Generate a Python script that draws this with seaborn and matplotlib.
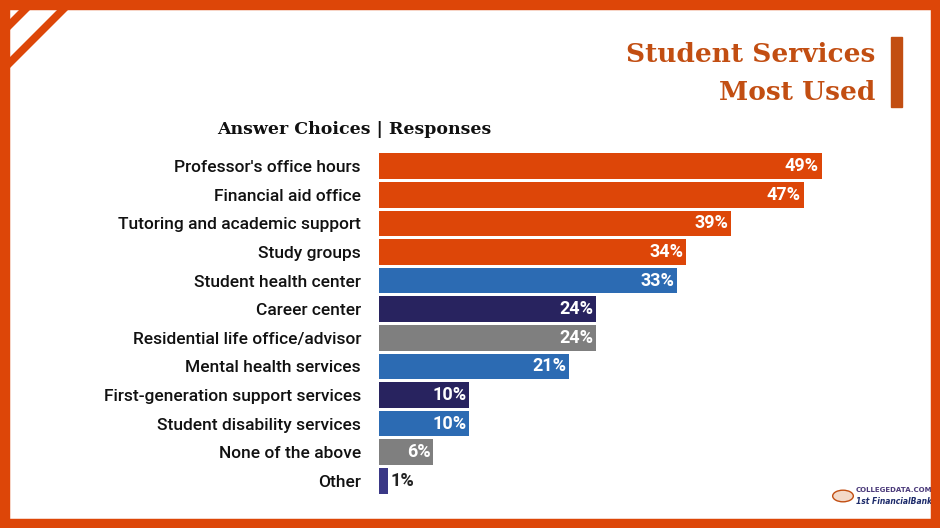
import matplotlib
matplotlib.use("Agg")
import matplotlib.pyplot as plt
import seaborn as sns
import pandas as pd
from matplotlib.patches import Rectangle, Polygon

categories = ["Professor's office hours", "Financial aid office", "Tutoring and academic support",
              "Study groups", "Student health center", "Career center",
              "Residential life office/advisor", "Mental health services",
              "First-generation support services", "Student disability services",
              "None of the above", "Other"]
values = [49, 47, 39, 34, 33, 24, 24, 21, 10, 10, 6, 1]
ORANGE, BLUE, NAVY, GREY = "#DD4608", "#2C6BB3", "#28235F", "#7F7F7F"
bar_colors = [ORANGE, ORANGE, ORANGE, ORANGE, BLUE, NAVY, GREY, BLUE, NAVY, BLUE, GREY, "#3A3886"]

df = pd.DataFrame({"cat": categories, "val": values})

W, H = 940, 528
fig = plt.figure(figsize=(9.4, 5.28), dpi=100)
ax = fig.add_axes([379/W, 33/H, 551/W, 343/H])
sns.barplot(data=df, y="cat", x="val", hue="cat", palette=bar_colors, legend=False,
            orient="h", width=0.9, ax=ax, saturation=1)
ax.set_xlim(0, 61)
ax.set_ylim(11.5, -0.5)
for s in ax.spines.values():
    s.set_visible(False)
ax.set_xticks([])
ax.set_xlabel(""); ax.set_ylabel("")
ax.tick_params(axis="y", length=0, pad=13)
for t in ax.get_yticklabels():
    t.set_fontfamily("Roboto"); t.set_fontsize(12.5); t.set_fontweight("medium"); t.set_color("#111111")
for i, v in enumerate(values):
    if v >= 5:
        ax.text(v - 0.3, i, f"{v}%", ha="right", va="center", color="white",
                fontsize=13, fontweight="bold", fontfamily="Roboto")
    else:
        ax.text(v + 0.3, i, f"{v}%", ha="left", va="center", color="#222222",
                fontsize=13, fontweight="bold", fontfamily="Roboto")

def fp(x, y):
    return (x / W, 1 - y / H)

# frame
fig.patches.append(Rectangle((0, 0), 1, 1, transform=fig.transFigure, fill=False,
                             edgecolor=ORANGE, linewidth=14, zorder=10))
for a in [30, 68]:
    fig.patches.append(Polygon([fp(0, a), fp(0, a + 9), fp(a + 9, 0), fp(a, 0)],
                               closed=True, transform=fig.transFigure, color=ORANGE, zorder=10))
fig.text(354/W, 1 - 129/H, "Answer Choices | Responses", ha="center", va="center",
         fontsize=12.5, fontweight="bold", fontfamily="DejaVu Serif", color="#111111")
fig.text(875/W, 1 - 55/H, "Student Services", ha="right", va="center",
         fontsize=19, fontweight="bold", fontfamily="DejaVu Serif", color="#C24E12")
fig.text(875/W, 1 - 93/H, "Most Used", ha="right", va="center",
         fontsize=19, fontweight="bold", fontfamily="DejaVu Serif", color="#C24E12")
fig.patches.append(Rectangle((891/W, 1 - 107/H), 11/W, 70/H, transform=fig.transFigure,
                             color="#C24E12"))
fig.text(856/W, 1 - 490/H, "COLLEGEDATA.COM", fontsize=5, color="#4B3A7A",
         fontweight="bold", va="center")
fig.text(856/W, 1 - 502/H, "1st FinancialBank", fontsize=5.5, color="#1C2A6A",
         fontweight="bold", fontstyle="italic", va="center")
fig.patches.append(plt.Circle((843/W, 1 - 496/H), 0.011, transform=fig.transFigure,
                              facecolor="#F3D9C8", edgecolor="#C24E12"))
fig.savefig("out.png", dpi=100)
